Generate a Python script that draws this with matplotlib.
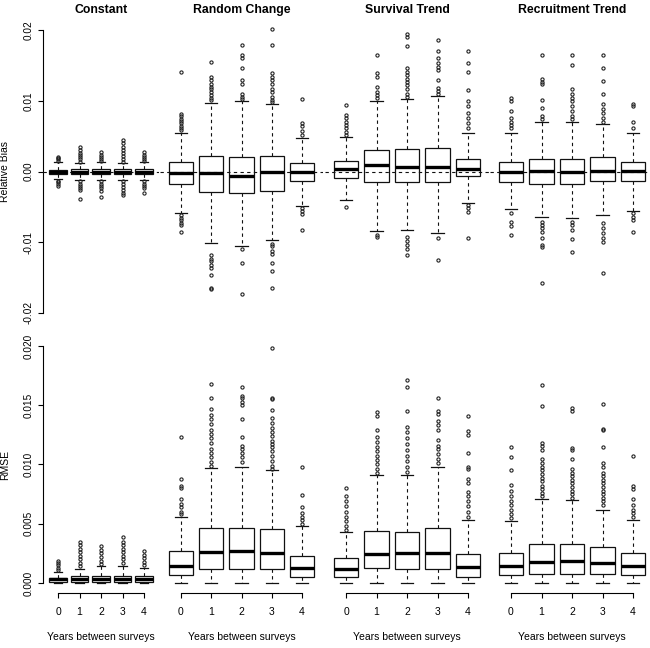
import matplotlib
matplotlib.use("Agg")
import matplotlib.pyplot as plt

plt.rcParams['font.family'] = ['Liberation Sans', 'DejaVu Sans']

scenarios = ["Constant", "Random Change", "Survival Trend", "Recruitment Trend"]
years = ["0", "1", "2", "3", "4"]

# --- relative bias: one row per scenario, one value per survey gap ---
bias_q1 = [
    [-0.0003, -0.0004, -0.0004, -0.0004, -0.0004],
    [-0.0017, -0.0029, -0.0031, -0.0027, -0.0014],
    [-0.0009, -0.0015, -0.0015, -0.0015, -0.0007],
    [-0.0015, -0.0017, -0.0017, -0.0014, -0.0014],
]
bias_med = [
    [-0.0001, -0.0001, -0.0001, -0.0001, -0.0001],
    [-0.0002, -0.0002, -0.0006, 0.0, -0.0001],
    [0.00035, 0.00096, 0.0007, 0.0007, 0.00035],
    [-0.0001, 0.0001, 0.0, 0.0001, 0.0001],
]
bias_q3 = [
    [0.0002, 0.0003, 0.0003, 0.0003, 0.0003],
    [0.0013, 0.0022, 0.0021, 0.0022, 0.0012],
    [0.0015, 0.0030, 0.0032, 0.0033, 0.0018],
    [0.0013, 0.0018, 0.0018, 0.0020, 0.0014],
]
bias_lo = [
    [-0.0010, -0.0012, -0.0012, -0.0012, -0.0012],
    [-0.0058, -0.0101, -0.0106, -0.0097, -0.0049],
    [-0.0040, -0.0084, -0.0083, -0.0087, -0.0044],
    [-0.0053, -0.0065, -0.0066, -0.0061, -0.0056],
]
bias_hi = [
    [0.0013, 0.0012, 0.0013, 0.0012, 0.0013],
    [0.0055, 0.0097, 0.0099, 0.0095, 0.0047],
    [0.0049, 0.0100, 0.0102, 0.0107, 0.0055],
    [0.0055, 0.0070, 0.0070, 0.0067, 0.0055],
]
bias_fliers = [
    [
        [0.0021, 0.0019, 0.0017, 0.0015, -0.0013, -0.0015, -0.0017, -0.0021],
        [0.0035, 0.0030, 0.0026, 0.0023, 0.0020, 0.0017, 0.0014,
         -0.0014, -0.0017, -0.0020, -0.0023, -0.0026, -0.0039],
        [0.0028, 0.0024, 0.0021, 0.0018, 0.0015,
         -0.0014, -0.0017, -0.0020, -0.0024, -0.0027, -0.0036],
        [0.0044, 0.0040, 0.0034, 0.0030, 0.0026, 0.0022, 0.0018, 0.0014,
         -0.0014, -0.0018, -0.0022, -0.0026, -0.0030, -0.0033],
        [0.0027, 0.0024, 0.0021, 0.0018, 0.0015,
         -0.0014, -0.0017, -0.0020, -0.0024, -0.0030],
    ],
    [
        [0.0141, 0.0081, 0.0078, 0.0074, 0.0071, 0.0068, 0.0065, 0.0061, 0.0058,
         -0.0062, -0.0066, -0.0069, -0.0073, -0.0076, -0.0086],
        [0.0155, 0.0134, 0.0129, 0.0124, 0.0120, 0.0117, 0.0112, 0.0108, 0.0104, 0.0101,
         -0.0118, -0.0123, -0.0127, -0.0132, -0.0137, -0.0147, -0.0164, -0.0166],
        [0.0179, 0.0165, 0.0160, 0.0146, 0.0129, 0.0124, 0.0110, 0.0106, 0.0102,
         -0.0110, -0.0129, -0.0173],
        [0.0202, 0.0179, 0.0139, 0.0134, 0.0129, 0.0124, 0.0117, 0.0112, 0.0106, 0.0101, 0.0098,
         -0.0102, -0.0106, -0.0112, -0.0117, -0.0130, -0.0140, -0.0165],
        [0.0102, 0.0068, 0.0064, 0.0057, 0.0052, -0.0052, -0.0056, -0.0060, -0.0083],
    ],
    [
        [0.0094, 0.0080, 0.0075, 0.0070, 0.0066, 0.0061, 0.0056, 0.0052, -0.0050],
        [0.0164, 0.0139, 0.0134, 0.0119, 0.0113, 0.0108, 0.0104, -0.0090, -0.0092],
        [0.0194, 0.0190, 0.0177, 0.0146, 0.0141, 0.0136, 0.0131, 0.0127, 0.0122, 0.0116,
         0.0110, 0.0105, -0.0092, -0.0098, -0.0104, -0.0110, -0.0118],
        [0.0186, 0.0170, 0.0160, 0.0153, 0.0148, 0.0143, 0.0130, 0.0118, 0.0114, 0.0110,
         -0.0094, -0.0125],
        [0.0170, 0.0154, 0.0141, 0.0115, 0.0099, 0.0092, 0.0082, 0.0075, 0.0068, 0.0061,
         -0.0048, -0.0052, -0.0057, -0.0094],
    ],
    [
        [0.0104, 0.0099, 0.0085, 0.0075, 0.0070, 0.0066, 0.0061,
         -0.0059, -0.0071, -0.0077, -0.0090],
        [0.0164, 0.0131, 0.0127, 0.0123, 0.0101, 0.0090, 0.0078, 0.0074,
         -0.0071, -0.0075, -0.0080, -0.0085, -0.0094, -0.0104, -0.0107, -0.0158],
        [0.0165, 0.0151, 0.0117, 0.0110, 0.0104, 0.0099, 0.0092, 0.0085, 0.0078, 0.0074,
         -0.0071, -0.0076, -0.0082, -0.0095, -0.0114],
        [0.0165, 0.0146, 0.0128, 0.0109, 0.0096, 0.0089, 0.0082, 0.0075, 0.0070,
         -0.0073, -0.0080, -0.0087, -0.0094, -0.0100, -0.0144],
        [0.0096, 0.0093, 0.0070, 0.0061, -0.0059, -0.0064, -0.0069, -0.0085],
    ],
]

# --- RMSE ---
rmse_q1 = [
    [0.00006, 0.0001, 0.0001, 0.0001, 0.0001],
    [0.00068, 0.00118, 0.00118, 0.00118, 0.00053],
    [0.0005, 0.00127, 0.00118, 0.00118, 0.0005],
    [0.00068, 0.00076, 0.00076, 0.00076, 0.00068],
]
rmse_med = [
    [0.0003, 0.0003, 0.00035, 0.00035, 0.00035],
    [0.00146, 0.00262, 0.0027, 0.00253, 0.00129],
    [0.00121, 0.00245, 0.00253, 0.00253, 0.00138],
    [0.00146, 0.00177, 0.00188, 0.00169, 0.00146],
]
rmse_q3 = [
    [0.00045, 0.0006, 0.0006, 0.0006, 0.0006],
    [0.0027, 0.00467, 0.00467, 0.00453, 0.00228],
    [0.00211, 0.00442, 0.00433, 0.00467, 0.00242],
    [0.00256, 0.00326, 0.00326, 0.00306, 0.0025],
]
rmse_lo = [
    [0.0, 0.0, 0.0, 0.0, 0.0],
    [0.0, 0.0, 0.0, 0.0, 0.0],
    [0.0, 0.0, 0.0, 0.0, 0.0],
    [0.0, 0.0, 0.0, 0.0, 0.0],
]
rmse_hi = [
    [0.00096, 0.0012, 0.0014, 0.0014, 0.0013],
    [0.0056, 0.0097, 0.0098, 0.0095, 0.0048],
    [0.0043, 0.0091, 0.0091, 0.0098, 0.0053],
    [0.0052, 0.0071, 0.0070, 0.0062, 0.0053],
]
rmse_fliers = [
    [
        [0.0019, 0.0017, 0.0015, 0.0013, 0.0011],
        [0.0035, 0.0032, 0.0029, 0.0026, 0.0023, 0.0020, 0.0017, 0.0014],
        [0.0031, 0.0028, 0.0025, 0.0022, 0.0019, 0.0016],
        [0.0039, 0.0035, 0.0032, 0.0029, 0.0026, 0.0023, 0.0020, 0.0017],
        [0.0027, 0.0024, 0.0021, 0.0018, 0.0015],
    ],
    [
        [0.0123, 0.0088, 0.0082, 0.0080, 0.0071, 0.0067, 0.0064, 0.0060, 0.0058],
        [0.0168, 0.0156, 0.0147, 0.0142, 0.0138, 0.0134, 0.0129, 0.0126, 0.0122, 0.0118,
         0.0113, 0.0110, 0.0106, 0.0102, 0.0099],
        [0.0165, 0.0158, 0.0156, 0.0153, 0.0150, 0.0138, 0.0123, 0.0116, 0.0113, 0.0110,
         0.0106, 0.0102],
        [0.0198, 0.0156, 0.0155, 0.0146, 0.0139, 0.0135, 0.0131, 0.0127, 0.0124, 0.0120,
         0.0117, 0.0115, 0.0111, 0.0107, 0.0103, 0.0099, 0.0096],
        [0.0098, 0.0074, 0.0064, 0.0059, 0.0056, 0.0053, 0.0050],
    ],
    [
        [0.0080, 0.0073, 0.0069, 0.0065, 0.0060, 0.0056, 0.0052, 0.0048, 0.0045],
        [0.0144, 0.0141, 0.0129, 0.0123, 0.0119, 0.0115, 0.0111, 0.0107, 0.0104, 0.0100,
         0.0096, 0.0093],
        [0.0171, 0.0165, 0.0145, 0.0132, 0.0127, 0.0122, 0.0117, 0.0112, 0.0107, 0.0103,
         0.0098, 0.0094],
        [0.0156, 0.0145, 0.0143, 0.0137, 0.0133, 0.0129, 0.0121, 0.0116, 0.0113, 0.0109,
         0.0105, 0.0101],
        [0.0141, 0.0128, 0.0125, 0.0110, 0.0098, 0.0096, 0.0088, 0.0084, 0.0077, 0.0073,
         0.0069, 0.0065, 0.0060, 0.0056],
    ],
    [
        [0.0115, 0.0106, 0.0095, 0.0083, 0.0078, 0.0073, 0.0069, 0.0066, 0.0062, 0.0058, 0.0055],
        [0.0167, 0.0149, 0.0118, 0.0116, 0.0112, 0.0105, 0.0101, 0.0098, 0.0095, 0.0092,
         0.0089, 0.0086, 0.0082, 0.0079, 0.0076, 0.0073],
        [0.0148, 0.0145, 0.0114, 0.0112, 0.0105, 0.0096, 0.0093, 0.0090, 0.0087, 0.0084,
         0.0081, 0.0078, 0.0075, 0.0072],
        [0.0151, 0.0130, 0.0129, 0.0115, 0.0101, 0.0098, 0.0093, 0.0090, 0.0087, 0.0084,
         0.0081, 0.0078, 0.0075, 0.0072, 0.0069, 0.0066],
        [0.0107, 0.0082, 0.0079, 0.0071, 0.0066, 0.0062, 0.0059, 0.0056],
    ],
]

bias_ticks = [-0.02, -0.01, 0.0, 0.01, 0.02]
bias_ticklabels = ["-0.02", "-0.01", "0.00", "0.01", "0.02"]
rmse_ticks = [0.0, 0.005, 0.010, 0.015, 0.020]
rmse_ticklabels = ["0.000", "0.005", "0.010", "0.015", "0.020"]

# --- layout (pixels of a 650x648 canvas) ---
W, H = 650, 648
tick_px = [(58, 144), (181, 302), (346, 468), (511, 633)]  # x of first/last box
row_px = [(18.7, 324.3), (336.5, 592.5)]                   # top/bottom of plot regions
row_ylim = [(-0.0216, 0.0216), (-0.0008, 0.0208)]

fig = plt.figure(figsize=(W / 100, H / 100), dpi=100)

box_kw = dict(
    widths=0.8, capwidths=0.4, patch_artist=True,
    boxprops=dict(facecolor='white', edgecolor='#111111', linewidth=0.9),
    whiskerprops=dict(color='#111111', linewidth=0.8, linestyle=(0, (3, 3))),
    capprops=dict(color='#111111', linewidth=0.9),
    medianprops=dict(color='black', linewidth=2.4, solid_capstyle='butt', zorder=4),
    flierprops=dict(marker='o', markersize=2.3, markerfacecolor='none',
                    markeredgecolor='#222222', markeredgewidth=0.8),
)


def make_stats(q1, med, q3, lo, hi, fl):
    return [dict(q1=q1[i], med=med[i], q3=q3[i], whislo=lo[i], whishi=hi[i],
                 fliers=fl[i]) for i in range(len(med))]


rows = [
    (bias_q1, bias_med, bias_q3, bias_lo, bias_hi, bias_fliers),
    (rmse_q1, rmse_med, rmse_q3, rmse_lo, rmse_hi, rmse_fliers),
]

for r, (q1, med, q3, lo, hi, fl) in enumerate(rows):
    top, bot = row_px[r]
    for c, name in enumerate(scenarios):
        x0, x4 = tick_px[c]
        unit = (x4 - x0) / 4
        left, right = x0 - 0.7 * unit, x4 + 0.7 * unit
        ax = fig.add_axes([left / W, 1 - bot / H, (right - left) / W, (bot - top) / H])
        ax.set_xlim(0.3, 5.7)
        ax.set_ylim(*row_ylim[r])
        ax.patch.set_visible(False)

        stats = make_stats(q1[c], med[c], q3[c], lo[c], hi[c], fl[c])
        ax.bxp(stats, positions=range(1, 6), **box_kw)

        if r == 0:
            ax.axhline(0, color='#111111', linewidth=0.8, linestyle=(0, (3, 3)), zorder=3)

        for s in ax.spines.values():
            s.set_visible(False)

        # y axis only on the first column
        if c == 0:
            ax.spines['left'].set_visible(True)
            ax.spines['left'].set_linewidth(0.8)
            if r == 0:
                ax.spines['left'].set_bounds(-0.02, 0.02)
                ax.set_yticks(bias_ticks)
                ax.set_yticklabels(bias_ticklabels, rotation=90, va='center')
            else:
                ax.spines['left'].set_bounds(0.0, 0.020)
                ax.set_yticks(rmse_ticks)
                ax.set_yticklabels(rmse_ticklabels, rotation=90, va='center')
            ax.tick_params(axis='y', length=3.5, width=0.8, pad=3.5, labelsize=7.2)
        else:
            ax.set_yticks([])

        # x axis only on the bottom row
        if r == 1:
            ax.spines['bottom'].set_visible(True)
            ax.spines['bottom'].set_linewidth(0.8)
            ax.spines['bottom'].set_bounds(1, 5)
            ax.set_xticks(range(1, 6))
            ax.set_xticklabels(years)
            ax.tick_params(axis='x', length=3.8, width=0.8, pad=6.5, labelsize=7.5)
            fig.text((x0 + x4) / 2 / W, 1 - 637 / H, "Years between surveys",
                     ha='center', va='center', fontsize=7.5)
        else:
            ax.set_xticks([])
            fig.text((x0 + x4) / 2 / W, 1 - 10 / H, name,
                     ha='center', va='center', fontsize=8.8, fontweight='bold')

fig.text(0.5 / W, 1 - 171.5 / H, "Relative Bias", rotation=90,
         ha='left', va='center', fontsize=7.5)
fig.text(0.5 / W, 1 - 464.5 / H, "RMSE", rotation=90,
         ha='left', va='center', fontsize=7.5)

fig.savefig("out.png", dpi=100)
